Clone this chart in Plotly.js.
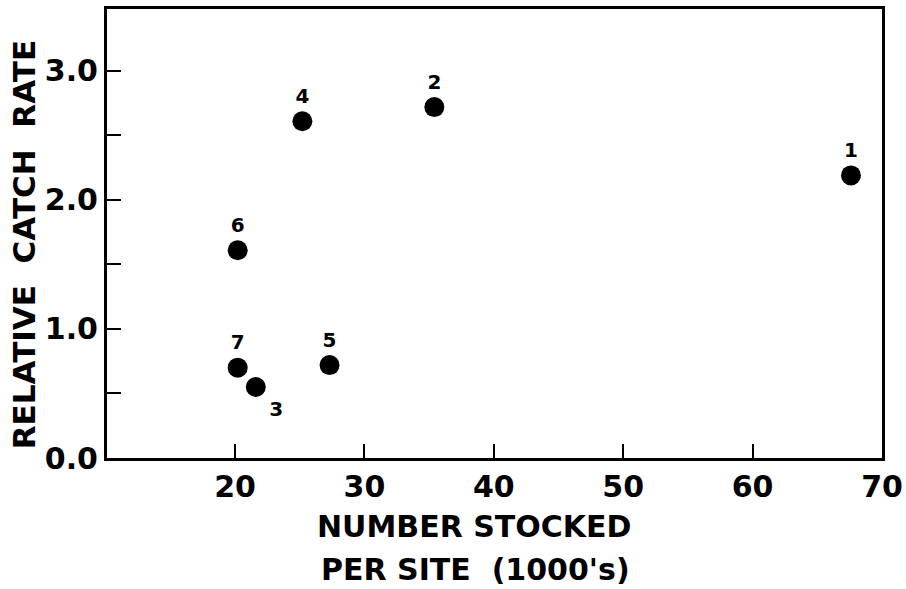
<!DOCTYPE html>
<html>
<head>
<meta charset="utf-8">
<script src="https://cdn.plot.ly/plotly-3.0.1.min.js"></script>
<style>html,body{margin:0;padding:0;background:#fff;}#chart{width:906px;height:589px;}</style>
</head>
<body>
<div id="chart"></div>
<script>
// Data
const siteLabels = ["1", "2", "3", "4", "5", "6", "7"];
const numberStocked = [67.6, 35.4, 21.6, 25.2, 27.3, 20.2, 20.2]; // thousands per site
const relativeCatchRate = [2.19, 2.72, 0.55, 2.61, 0.72, 1.61, 0.70];
const labelPositions = ["top center", "top center", "bottom right", "top center", "top center", "top center", "top center"];

const xTickVals = [20, 30, 40, 50, 60, 70];
const xTickText = ["20", "30", "40", "50", "60", "70"];
const yTickVals = [0, 0.5, 1, 1.5, 2, 2.5, 3];
const yTickText = ["0.0", "", "1.0", "", "2.0", "", "3.0"];

const FONT = "DejaVu Sans, Liberation Sans, sans-serif";

const trace = {
  type: "scatter",
  mode: "markers+text",
  x: numberStocked,
  y: relativeCatchRate,
  text: siteLabels,
  textposition: labelPositions,
  textfont: {family: FONT, size: 20, color: "#000", weight: "bold"},
  marker: {size: 20, color: "#000"},
  cliponaxis: false,
  hoverinfo: "skip"
};

const layout = {
  width: 906, height: 589,
  margin: {l: 107, r: 24, t: 9, b: 131},
  paper_bgcolor: "#fff", plot_bgcolor: "#fff",
  showlegend: false,
  font: {family: FONT, color: "#000"},
  xaxis: {
    range: [10.1, 70],
    tickvals: xTickVals, ticktext: xTickText,
    ticks: "inside", ticklen: 14, tickwidth: 2, tickcolor: "#000",
    showline: true, linewidth: 3, linecolor: "#000", mirror: true,
    showgrid: false, zeroline: false,
    tickfont: {family: FONT, size: 30, color: "#000", weight: "bold"},
    ticklabelstandoff: 0
  },
  yaxis: {
    range: [0, 3.48],
    tickvals: yTickVals, ticktext: yTickText,
    ticks: "inside", ticklen: 14, tickwidth: 2, tickcolor: "#000",
    showline: true, linewidth: 3, linecolor: "#000", mirror: true,
    showgrid: false, zeroline: false,
    tickfont: {family: FONT, size: 30, color: "#000", weight: "bold"},
    ticklabelstandoff: 0
  },
  annotations: [
    {text: "NUMBER STOCKED", xref: "paper", yref: "paper", x: 0.473, y: -0.152,
     xanchor: "center", yanchor: "middle", showarrow: false,
     font: {family: FONT, size: 30, color: "#000", weight: "bold"}},
    {text: "PER SITE  (1000's)", xref: "paper", yref: "paper", x: 0.475, y: -0.248,
     xanchor: "center", yanchor: "middle", showarrow: false,
     font: {family: FONT, size: 30, color: "#000", weight: "bold"}},
    {text: "RELATIVE  CATCH  RATE", xref: "paper", yref: "paper", x: -0.107, y: 0.474,
     xanchor: "center", yanchor: "middle", textangle: -90, showarrow: false,
     font: {family: FONT, size: 31, color: "#000", weight: "bold"}}
  ]
};

Plotly.newPlot("chart", [trace], layout, {staticPlot: true, displayModeBar: false});
</script>
</body>
</html>
